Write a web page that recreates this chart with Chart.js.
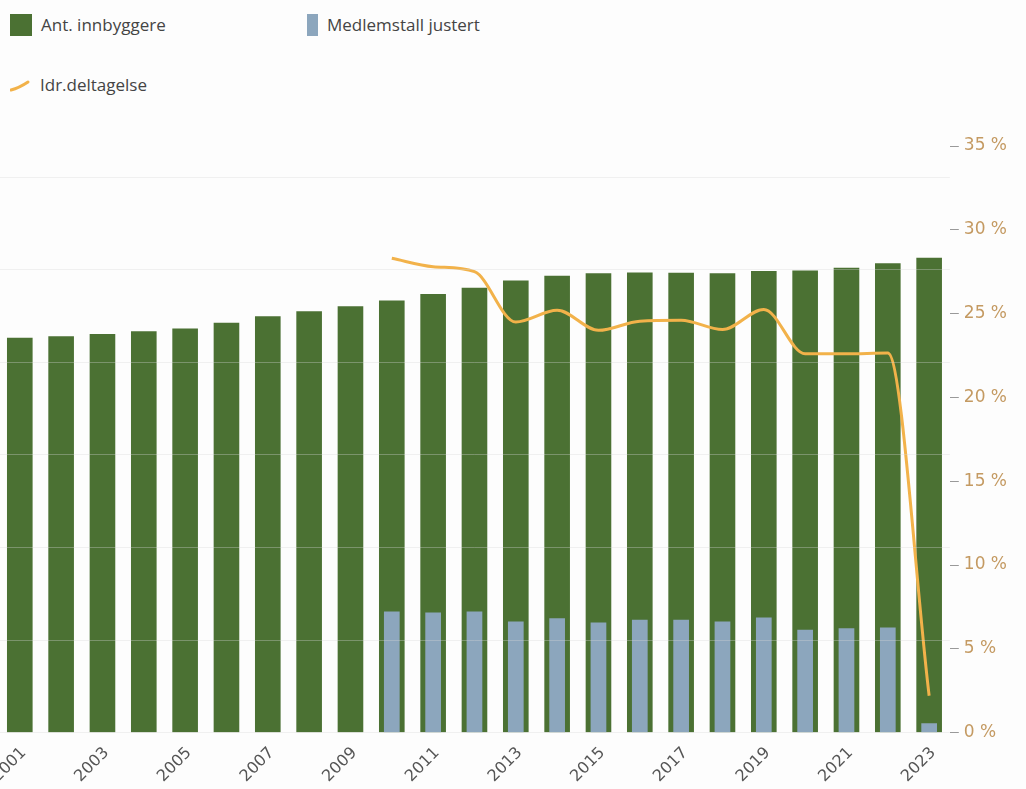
<!DOCTYPE html>
<html>
<head>
<meta charset="utf-8">
<script src="https://cdn.jsdelivr.net/npm/chart.js@4"></script>
<style>
  html, body { margin: 0; padding: 0; background: #fdfdfd; }
  body { width: 1026px; height: 789px; position: relative; overflow: hidden; font-family: "Open Sans", sans-serif; }
  #legend { position: absolute; left: 0; top: 0; width: 1026px; height: 110px; }
  .item { position: absolute; display: flex; align-items: center; color: #444; font-size: 17px; }
  .box { height: 22px; margin-right: 9px; }
  #wrap { position: absolute; left: -12px; top: 110px; }
</style>
</head>
<body>
<div id="legend"></div>
<div id="wrap"><canvas id="chart" width="1038" height="679"></canvas></div>
<script>
// 年
const years = ['2001','2002','2003','2004','2005','2006','2007','2008','2009','2010','2011','2012',
               '2013','2014','2015','2016','2017','2018','2019','2020','2021','2022','2023'];
// 人口
const innbyggere = [4263, 4281, 4306, 4335, 4364, 4425, 4497, 4551, 4605, 4667, 4738, 4803,
                    4883, 4933, 4962, 4970, 4965, 4962, 4984, 4991, 5020, 5070, 5128];
// 会員数
const medlemstall = [null, null, null, null, null, null, null, null, null, 1308, 1297, 1308,
                     1200, 1236, 1189, 1218, 1218, 1200, 1243, 1110, 1128, 1135, 100];
// 参加率 (%)
const deltagelse = [null, null, null, null, null, null, null, null, null, 28.3, 27.8, 27.5,
                    24.5, 25.2, 24.0, 24.55, 24.6, 24.05, 25.25, 22.6, 22.6, 22.65, 2.2];
// 目盛り
const pctTicks = [0, 5, 10, 15, 20, 25, 30, 35];
const gridTicks = [0, 1000, 2000, 3000, 4000, 5000, 6000];

const GREEN = '#4b7133';
const BLUE = '#8ca6bd';
const ORANGE = '#f2b24a';

document.addEventListener('DOMContentLoaded', function() {
    const ctx = document.getElementById('chart');
    const chart = new Chart(ctx, {
        data: {
            labels: years,
            datasets: [{
                type: 'line',
                label: 'Idr.deltagelse',
                data: deltagelse,
                yAxisID: 'y1',
                borderColor: ORANGE,
                borderWidth: 3,
                pointRadius: 0,
                cubicInterpolationMode: 'monotone',
                order: 0
            }, {
                type: 'bar',
                label: 'Medlemstall justert',
                data: medlemstall,
                yAxisID: 'y',
                backgroundColor: BLUE,
                grouped: false,
                categoryPercentage: 1,
                barPercentage: 0.38,
                order: 1
            }, {
                type: 'bar',
                label: 'Ant. innbyggere',
                data: innbyggere,
                yAxisID: 'y',
                backgroundColor: GREEN,
                grouped: false,
                categoryPercentage: 1,
                barPercentage: 0.62,
                order: 2
            }]
        },
        options: {
            responsive: false,
            animation: false,
            layout: { padding: { top: 36, right: 14, left: 0, bottom: 0 } },
            plugins: {
                legend: { display: false },
                tooltip: { enabled: false }
            },
            scales: {
                x: {
                    offset: true,
                    grid: { display: false },
                    border: { display: false },
                    ticks: {
                        color: '#555',
                        font: { family: 'DejaVu Sans', size: 16 },
                        minRotation: 45,
                        maxRotation: 45,
                        labelOffset: 4,
                        autoSkip: false,
                        callback: function(v, i) { return i % 2 === 0 ? years[i] : ''; }
                    }
                },
                y: {
                    position: 'left',
                    min: 0,
                    max: 6335,
                    border: { display: false },
                    grid: { color: 'rgba(215,215,215,0.35)', drawTicks: false, z: 1 },
                    afterBuildTicks: function(axis) {
                        axis.ticks = gridTicks.map(v => ({ value: v }));
                    },
                    ticks: { display: false }
                },
                y1: {
                    position: 'right',
                    min: 0,
                    max: 35,
                    border: { display: false },
                    grid: { drawOnChartArea: false, tickLength: 9, color: '#999' },
                    afterBuildTicks: function(axis) {
                        axis.ticks = pctTicks.map(v => ({ value: v }));
                    },
                    ticks: {
                        color: '#c49a62',
                        padding: 5,
                        font: { family: 'DejaVu Sans', size: 17 },
                        callback: function(v) { return v + ' %'; }
                    }
                }
            }
        }
    });

    // 凡例
    const legend = document.getElementById('legend');
    const pos = {
        'Ant. innbyggere': { left: 10, top: 13, w: 22 },
        'Medlemstall justert': { left: 307, top: 13, w: 11 },
        'Idr.deltagelse': { left: 10, top: 73 }
    };
    ['Ant. innbyggere', 'Medlemstall justert', 'Idr.deltagelse'].forEach(name => {
        const ds = chart.data.datasets.find(d => d.label === name);
        const p = pos[name];
        const item = document.createElement('div');
        item.className = 'item';
        item.style.left = p.left + 'px';
        item.style.top = p.top + 'px';
        if (ds.type === 'line') {
            item.innerHTML = '<svg width="20" height="22" style="margin-right:10px">' +
                '<path d="M1 16 Q9 14 18 8" stroke="' + ds.borderColor + '" stroke-width="3" fill="none" stroke-linecap="round"/></svg>';
        } else {
            item.innerHTML = '<div class="box" style="width:' + p.w + 'px;background:' + ds.backgroundColor + '"></div>';
        }
        const span = document.createElement('span');
        span.textContent = name;
        item.appendChild(span);
        legend.appendChild(item);
    });
});
</script>
</body>
</html>
